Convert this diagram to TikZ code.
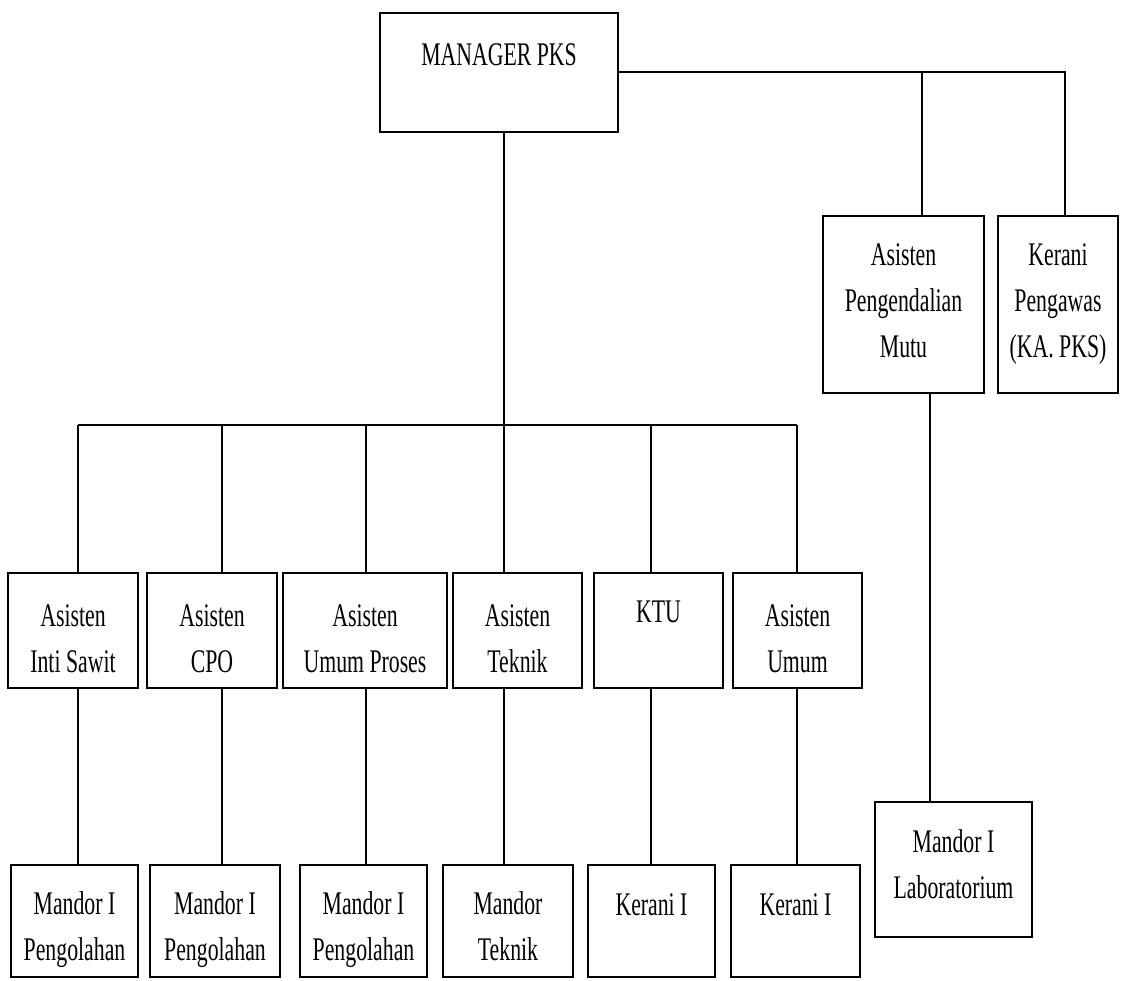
\documentclass[tikz,border=0pt]{standalone}
\usepackage{fontspec}
\setmainfont{Liberation Serif}[FakeStretch=0.66]
\tikzset{
  box/.style={draw=black, line width=1.6pt, rectangle, inner sep=0pt, outer sep=0pt, fill=white},
  lbl/.style={font=\fontsize{33}{46}\selectfont, align=center, inner sep=0pt, text=black},
  conn/.style={draw=black, line width=1.6pt}
}
% name, x1, y1, x2, y2, text, baseline of last line
\newcommand{\orgbox}[7]{%
  \node[box, minimum width={(#4-#2)*1pt}, minimum height={(#5-#3)*1pt}] (#1) at ({(#2+#4)/2},{(#3+#5)/2}) {};
  \node[lbl, anchor=base] (#1t) at ({(#2+#4)/2},#7) {#6};}
\begin{document}
\begin{tikzpicture}[x=1pt,y=-1pt]
\useasboundingbox[fill=white] (0,0) rectangle (1121,980);
% top
\orgbox{mgr}{380}{13}{618}{132}{MANAGER PKS}{65}
\orgbox{apm}{823}{216}{984}{393}{Asisten\\Pengendalian\\Mutu}{357}
\orgbox{kp}{998}{216}{1118}{393}{Kerani\\Pengawas\\(KA. PKS)}{357}
% middle row
\orgbox{a1}{8}{573}{138}{688}{Asisten\\Inti Sawit}{672}
\orgbox{a2}{147}{573}{277}{688}{Asisten\\CPO}{672}
\orgbox{a3}{283}{573}{447}{688}{Asisten\\Umum Proses}{672}
\orgbox{a4}{453}{573}{582}{688}{Asisten\\Teknik}{672}
\orgbox{a5}{594}{573}{723}{688}{KTU}{622}
\orgbox{a6}{733}{573}{862}{688}{Asisten\\Umum}{672}
% bottom row
\orgbox{m1}{11}{865}{138}{977}{Mandor I\\Pengolahan}{960}
\orgbox{m2}{150}{865}{280}{977}{Mandor I\\Pengolahan}{960}
\orgbox{m3}{300}{865}{427}{977}{Mandor I\\Pengolahan}{960}
\orgbox{m4}{443}{865}{573}{977}{Mandor\\Teknik}{960}
\orgbox{m5}{588}{865}{715}{977}{Kerani I}{915}
\orgbox{m6}{731}{865}{860}{977}{Kerani I}{915}
\orgbox{lab}{875}{802}{1032}{937}{Mandor I\\Laboratorium}{898}
% connectors
\coordinate (rA) at (922,72);
\coordinate (rB) at (1065,72);
\draw[conn] (mgr.east |- rA) -- (rB) -- (rB |- kp.north);
\draw[conn] (rA) -- (rA |- apm.north);
\coordinate (lv) at (930,600);
\draw[conn] (lv |- apm.south) -- (lv |- lab.north);
\coordinate (d1) at (78,425);
\coordinate (d2) at (222,425);
\coordinate (d3) at (366,425);
\coordinate (d4) at (504,425);
\coordinate (d5) at (651,425);
\coordinate (d6) at (797,425);
\draw[conn] (d4 |- mgr.south) -- (d4);
\draw[conn] (d1) -- (d6);
\foreach \i in {1,...,6}{
  \draw[conn] (d\i) -- (d\i |- a\i.north);
  \draw[conn] (d\i |- a\i.south) -- (d\i |- m\i.north);
}
\end{tikzpicture}
\end{document}
